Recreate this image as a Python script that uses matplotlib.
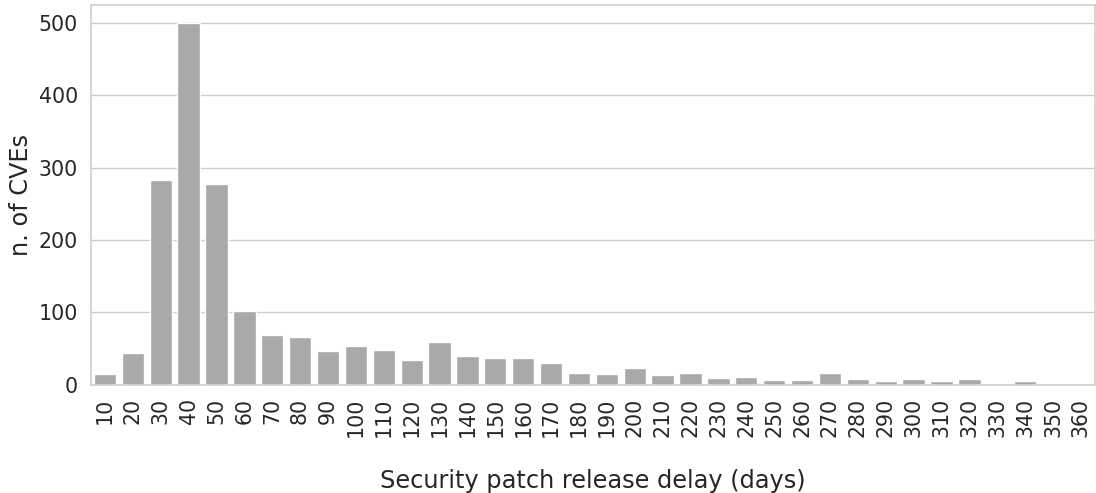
import numpy as np
import pandas as pd
import matplotlib
matplotlib.use("Agg")
import matplotlib.pyplot as plt
import seaborn as sns

# delay bins (days) and number of CVEs per bin
delays = [10, 20, 30, 40, 50, 60, 70, 80, 90, 100, 110, 120, 130, 140, 150, 160, 170, 180,
          190, 200, 210, 220, 230, 240, 250, 260, 270, 280, 290, 300, 310, 320, 330, 340, 350, 360]
n_cves = [14, 44, 283, 500, 278, 102, 69, 66, 47, 53, 48, 34, 59, 40, 37, 37, 30, 16,
          15, 23, 13, 16, 9, 11, 6, 6, 16, 8, 5, 8, 5, 8, 0, 5, 0, 0]

df = pd.DataFrame({"delay": delays, "count": n_cves})

sns.set_theme(style="whitegrid", context="notebook", font_scale=1.5)
plt.rcParams['font.family'] = ['DejaVu Sans']

fig, ax = plt.subplots(figsize=(10.96, 4.93), dpi=100)
sns.barplot(data=df, x="delay", y="count", color="darkgray", saturation=1, ax=ax)
ax.set_xlabel("Security patch release delay (days)", labelpad=23, fontsize=17.3)
ax.set_ylabel("n. of CVEs", fontsize=17.3)
ax.set_yticks([0, 100, 200, 300, 400, 500])
ax.tick_params(axis="both", labelsize=14.8)
plt.setp(ax.get_xticklabels(), rotation=90)
for s in ax.spines.values():
    s.set_color("#d0d0d0")

plt.subplots_adjust(left=0.083, right=0.999, top=0.99, bottom=0.22)
fig.savefig("out.png", dpi=100)
